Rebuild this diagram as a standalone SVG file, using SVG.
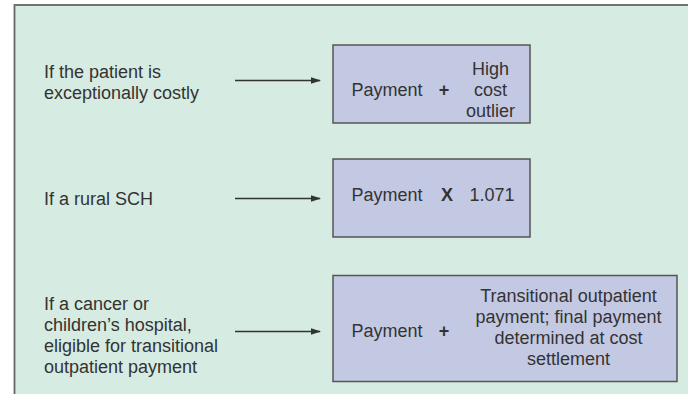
<svg xmlns="http://www.w3.org/2000/svg" width="688" height="394" viewBox="0 0 688 394">
<style>
text{font-family:"Liberation Sans",Arial,sans-serif;font-size:18px;fill:#333}
.box{fill:#c3c9e3;stroke:#555;stroke-width:1.5}
.c{text-anchor:middle}
.op{font-weight:bold;font-size:18px}
.conn line{stroke:#333;stroke-width:1.5;marker-end:url(#ah)}
</style>
<defs>
<marker id="ah" markerWidth="10" markerHeight="8" refX="9" refY="4" orient="auto" markerUnits="userSpaceOnUse">
<path d="M0,0.8 L10,4 L0,7.2 Z" fill="#333"/>
</marker>
</defs>
<rect x="0" y="0" width="688" height="394" fill="#ffffff"/>
<rect x="14.5" y="5" width="690" height="400" fill="#d6ebe2" stroke="#666" stroke-width="1.8"/>

<g id="cond1">
<text x="44" y="77.5">If the patient is</text>
<text x="44" y="99">exceptionally costly</text>
</g>
<g id="cond2">
<text x="44" y="205">If a rural SCH</text>
</g>
<g id="cond3">
<text x="44" y="310">If a cancer or</text>
<text x="44" y="331">children’s hospital,</text>
<text x="44" y="352">eligible for transitional</text>
<text x="44" y="373">outpatient payment</text>
</g>

<g id="result1">
<rect class="box" x="333" y="45" width="197" height="78"/>
<text x="351.5" y="96">Payment</text>
<text class="op c" x="444" y="96">+</text>
<text class="c" x="490.5" y="75">High</text>
<text class="c" x="490.5" y="96">cost</text>
<text class="c" x="490.5" y="116.5">outlier</text>
</g>
<g id="result2">
<rect class="box" x="333" y="159" width="197" height="78"/>
<text x="351.5" y="201">Payment</text>
<text class="op c" x="447" y="201">X</text>
<text x="469.5" y="201">1.071</text>
</g>
<g id="result3">
<rect class="box" x="333" y="275.5" width="344" height="106"/>
<text x="351.5" y="337">Payment</text>
<text class="op c" x="444" y="337">+</text>
<text class="c" x="568.5" y="301.5">Transitional outpatient</text>
<text class="c" x="568.5" y="322.5">payment; final payment</text>
<text class="c" x="568.5" y="343.5">determined at cost</text>
<text class="c" x="568.5" y="365">settlement</text>
</g>

<g id="connectors" class="conn">
<line x1="235" y1="80.5" x2="320" y2="80.5"/>
<line x1="235" y1="198.5" x2="320" y2="198.5"/>
<line x1="235" y1="331.5" x2="320" y2="331.5"/>
</g>
</svg>
